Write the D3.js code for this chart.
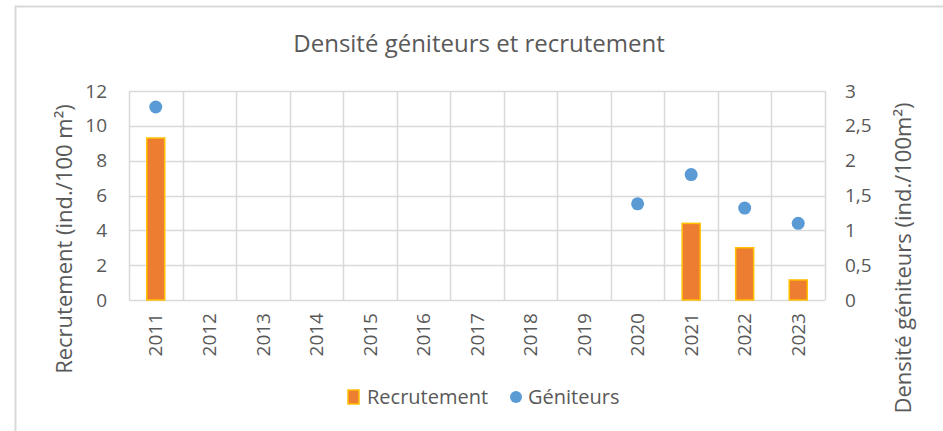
<!DOCTYPE html>
<html>
<head>
<meta charset="utf-8">
<script src="https://cdn.jsdelivr.net/npm/d3@7"></script>
<style>
  body { margin: 0; background: #fff; }
  text { font-family: "Open Sans", "Noto Sans", sans-serif; fill: #595959; }
</style>
</head>
<body>
<div id="chart"></div>
<script>
// data
const years = ["2011", "2012", "2013", "2014", "2015", "2016", "2017", "2018", "2019", "2020", "2021", "2022", "2023"];
const recrutement = [9.3, null, null, null, null, null, null, null, null, null, 4.4, 3.0, 1.15];
const geniteurs = [2.77, null, null, null, null, null, null, null, null, 1.38, 1.8, 1.32, 1.1];
const leftTicks = [0, 2, 4, 6, 8, 10, 12];
const rightTicks = [0, 0.5, 1, 1.5, 2, 2.5, 3];

const width = 943, height = 431;
const margin = { top: 91, right: 118, bottom: 131, left: 129 };
const innerWidth = width - margin.left - margin.right;
const innerHeight = height - margin.top - margin.bottom;

const svg = d3.select("#chart").append("svg")
  .attr("width", width)
  .attr("height", height);

// chart frame
svg.append("path")
  .attr("d", `M15.5,${height} V6.5 H${width}`)
  .attr("fill", "none")
  .attr("stroke", "#d9d9d9")
  .attr("stroke-width", 2);

const g = svg.append("g")
  .attr("transform", `translate(${margin.left},${margin.top})`);

const x = d3.scaleBand().domain(years).range([0, innerWidth]);
const yLeft = d3.scaleLinear().domain([0, 12]).range([innerHeight, 0]);
const yRight = d3.scaleLinear().domain([0, 3]).range([innerHeight, 0]);

// horizontal gridlines
g.selectAll("line.hgrid")
  .data(leftTicks)
  .enter().append("line")
  .attr("class", "hgrid")
  .attr("x1", 0).attr("x2", innerWidth)
  .attr("y1", d => Math.round(yLeft(d)) + 0.5)
  .attr("y2", d => Math.round(yLeft(d)) + 0.5)
  .attr("stroke", "#d9d9d9")
  .attr("stroke-width", 1.5);

// vertical gridlines between categories
const vEdges = years.map(d => x(d)).concat([innerWidth]);
g.selectAll("line.vgrid")
  .data(vEdges)
  .enter().append("line")
  .attr("class", "vgrid")
  .attr("x1", d => Math.round(d) + 0.5).attr("x2", d => Math.round(d) + 0.5)
  .attr("y1", 0).attr("y2", innerHeight)
  .attr("stroke", "#d9d9d9")
  .attr("stroke-width", 1.5);

// left tick labels
g.selectAll("text.ltick")
  .data(leftTicks)
  .enter().append("text")
  .attr("class", "ltick")
  .attr("x", -22)
  .attr("y", d => yLeft(d))
  .attr("dy", "0.35em")
  .attr("text-anchor", "end")
  .attr("font-size", 19)
  .text(d => d);

// right tick labels
const commaFmt = d => String(d).replace(".", ",");
g.selectAll("text.rtick")
  .data(rightTicks)
  .enter().append("text")
  .attr("class", "rtick")
  .attr("x", innerWidth + 20)
  .attr("y", d => yRight(d))
  .attr("dy", "0.35em")
  .attr("font-size", 19)
  .text(commaFmt);

// year labels, rotated
g.selectAll("text.xtick")
  .data(years)
  .enter().append("text")
  .attr("class", "xtick")
  .attr("transform", d => `translate(${x(d) + x.bandwidth() / 2},${innerHeight + 13}) rotate(-90)`)
  .attr("text-anchor", "end")
  .attr("dy", "0.35em")
  .attr("font-size", 19)
  .text(d => d);

// bars
const barW = 18;
g.selectAll("rect.bar")
  .data(years.map((d, i) => [d, recrutement[i]]).filter(d => d[1] != null))
  .enter().append("rect")
  .attr("class", "bar")
  .attr("x", d => x(d[0]) + x.bandwidth() / 2 - barW / 2)
  .attr("y", d => yLeft(d[1]))
  .attr("width", barW)
  .attr("height", d => innerHeight - yLeft(d[1]))
  .attr("fill", "#ED7D31")
  .attr("stroke", "#FFC000")
  .attr("stroke-width", 1.5);

// dots
g.selectAll("circle.dot")
  .data(years.map((d, i) => [d, geniteurs[i]]).filter(d => d[1] != null))
  .enter().append("circle")
  .attr("class", "dot")
  .attr("cx", d => x(d[0]) + x.bandwidth() / 2)
  .attr("cy", d => yRight(d[1]))
  .attr("r", 6.5)
  .attr("fill", "#5B9BD5");

// title
svg.append("text")
  .attr("x", 479).attr("y", 52)
  .attr("text-anchor", "middle")
  .attr("font-size", 24)
  .text("Densité géniteurs et recrutement");

// axis titles
svg.append("text")
  .attr("transform", `translate(72,239) rotate(-90)`)
  .attr("text-anchor", "middle")
  .attr("font-size", 22)
  .text("Recrutement (ind./100 m²)");

svg.append("text")
  .attr("transform", `translate(911,258) rotate(-90)`)
  .attr("text-anchor", "middle")
  .attr("font-size", 22)
  .text("Densité géniteurs (ind./100m²)");

// legend
const legend = svg.append("g").attr("transform", "translate(348,397)");
legend.append("rect")
  .attr("x", 0).attr("y", -7)
  .attr("width", 11).attr("height", 14)
  .attr("fill", "#ED7D31")
  .attr("stroke", "#FFC000")
  .attr("stroke-width", 1.5);
legend.append("text")
  .attr("x", 19).attr("y", 0)
  .attr("dy", "0.35em")
  .attr("font-size", 20)
  .text("Recrutement");
legend.append("circle")
  .attr("cx", 168).attr("cy", 0)
  .attr("r", 6)
  .attr("fill", "#5B9BD5");
legend.append("text")
  .attr("x", 180).attr("y", 0)
  .attr("dy", "0.35em")
  .attr("font-size", 20)
  .text("Géniteurs");
</script>
</body>
</html>
